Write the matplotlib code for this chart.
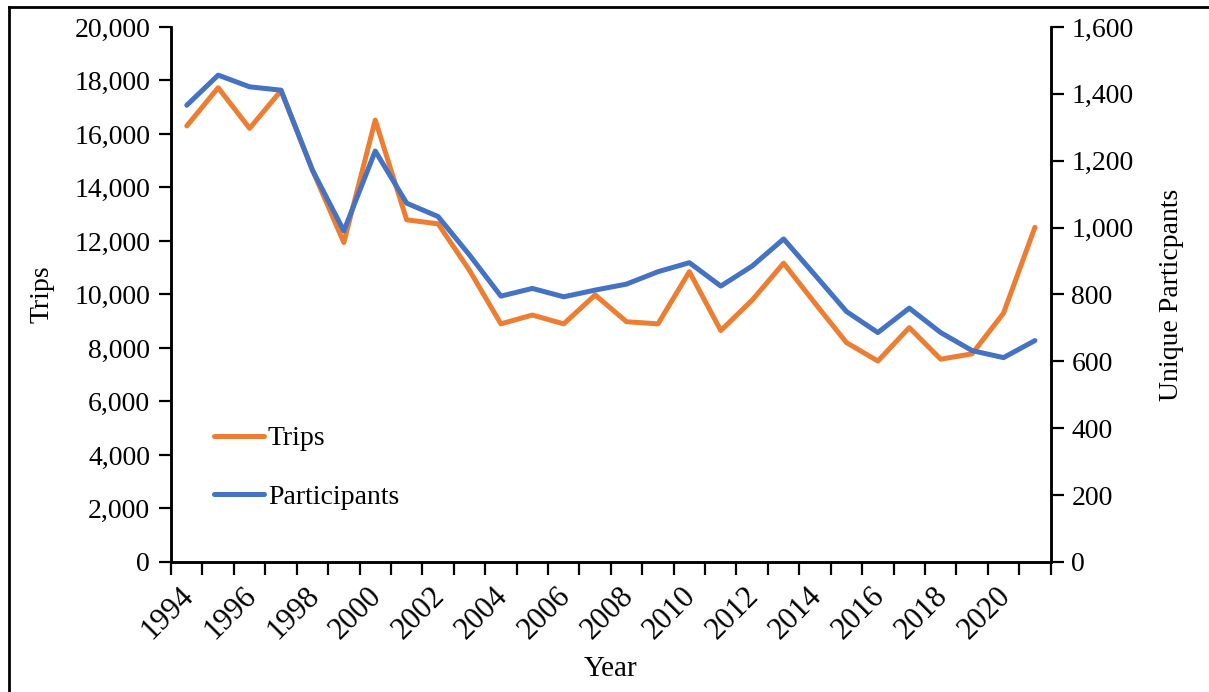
import matplotlib.pyplot as plt
from matplotlib.lines import Line2D
from matplotlib.ticker import FuncFormatter, MultipleLocator

plt.rcParams['font.family'] = ['Liberation Serif', 'DejaVu Serif']

years = list(range(1994, 2022))
trips = [16300, 17730, 16210, 17620, 14650, 11940, 16520, 12790, 12640, 10900,
         8900, 9230, 8900, 9980, 8980, 8900, 10850, 8650, 9790, 11170,
         9670, 8200, 7510, 8760, 7580, 7780, 9300, 12510]
participants = [1366, 1456, 1421, 1411, 1172, 990, 1229, 1073, 1033, 918,
                795, 818, 793, 813, 831, 868, 895, 825, 885, 966,
                858, 749, 686, 759, 686, 632, 611, 662]

orange = '#ED7D31'
blue = '#4472C4'

fig = plt.figure(figsize=(12.09, 6.92), dpi=100)
ax = fig.add_axes([0.1415, 0.188, 0.7275, 0.773])
ax2 = ax.twinx()

x = list(range(len(years)))
ax.plot(x, trips, color=orange, lw=3.6, solid_capstyle='round', solid_joinstyle='round', zorder=3)
ax2.plot(x, participants, color=blue, lw=3.6, solid_capstyle='round', solid_joinstyle='round', zorder=3)

ax.set_xlim(-0.5, len(years) - 0.5)
ax.set_ylim(0, 20000)
ax2.set_ylim(0, 1600)
ax.yaxis.set_major_locator(MultipleLocator(2000))
ax2.yaxis.set_major_locator(MultipleLocator(200))
fmt = FuncFormatter(lambda v, p: f'{int(v):,}')
ax.yaxis.set_major_formatter(fmt)
ax2.yaxis.set_major_formatter(fmt)

# ticks between categories, labels every second year (nudged left a little,
# like Excel places rotated category labels)
ax.set_xticks([i - 0.5 for i in range(len(years) + 1)])
ax.set_xticklabels([])
ax.set_xticks([i - 0.25 for i in x[::2]], minor=True)
ax.set_xticklabels([str(y) for y in years[::2]], minor=True, rotation=45,
                   ha='right', rotation_mode='anchor', fontsize=22)
ax.tick_params(axis='x', which='major', direction='out', length=9, width=1.6)
ax.tick_params(axis='x', which='minor', length=0, pad=14)
ax.tick_params(axis='y', direction='out', length=9, width=1.6, labelsize=20, pad=6)
ax2.tick_params(axis='y', direction='out', length=9, width=1.6, labelsize=20, pad=6)

for a in (ax, ax2):
    for s in a.spines.values():
        s.set_linewidth(1.8)
    a.spines['top'].set_visible(False)

ax.set_ylabel('Trips', fontsize=20, labelpad=14)
ax2.set_ylabel('Unique Particpants', fontsize=20, labelpad=18)
ax.set_xlabel('Year', fontsize=21, labelpad=8)

handles = [Line2D([], [], color=orange, lw=3.6, solid_capstyle='round'),
           Line2D([], [], color=blue, lw=3.6, solid_capstyle='round')]
ax.legend(handles, ['Trips', 'Participants'], loc='lower left',
          bbox_to_anchor=(0.02, 0.05), frameon=False, fontsize=20,
          handlelength=1.8, handletextpad=0.15, labelspacing=1.2)

# frame of the pasted image (left and top edges)
fig.add_artist(Line2D([0.0075, 0.0075], [0, 0.99], transform=fig.transFigure, color='black', lw=2))
fig.add_artist(Line2D([0.0075, 1.0], [0.99, 0.99], transform=fig.transFigure, color='black', lw=2))

fig.savefig('out.png', dpi=100)
